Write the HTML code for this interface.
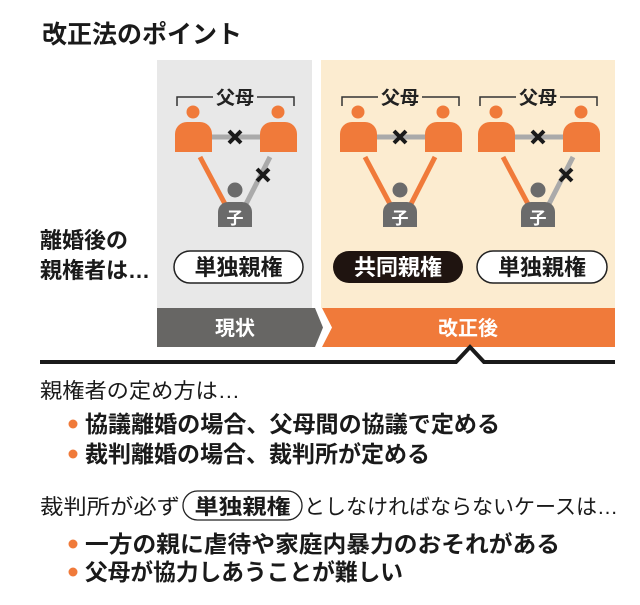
<!DOCTYPE html>
<html><head><meta charset="utf-8"><style>
html,body{margin:0;padding:0;background:#fff;}
svg{display:block;}
text{font-family:"Liberation Sans","Noto Sans CJK JP",sans-serif;}
</style></head><body>
<svg width="640" height="605" viewBox="0 0 640 605" xmlns="http://www.w3.org/2000/svg">
<defs>
<g id="fig">
  <path d="M2 106 V97 H38 M82 97 H119 V106" fill="none" stroke="#333" stroke-width="1.5"/>
  <text x="60" y="104" font-size="19" font-weight="bold" text-anchor="middle" fill="#222">父母</text>
  <line x1="36" y1="137" x2="86" y2="137" stroke="#aaa" stroke-width="5"/>
  <circle cx="18" cy="112" r="6.5" fill="#f07a3a"/>
  <path d="M0 152 V134 A12 12 0 0 1 12 122 H25 A12 12 0 0 1 37 134 V152 Z" fill="#f07a3a"/>
  <circle cx="103" cy="112" r="6.5" fill="#f07a3a"/>
  <path d="M85 152 V134 A12 12 0 0 1 97 122 H110 A12 12 0 0 1 122 134 V152 Z" fill="#f07a3a"/>
  <path d="M54 131 L66 143 M66 131 L54 143" stroke="#1a1a1a" stroke-width="4"/>
  <circle cx="60" cy="190" r="7.5" fill="#6b6b6b"/>
  <path d="M43 227 V212 A10 10 0 0 1 53 202 H67 A10 10 0 0 1 77 212 V227 Z" fill="#6b6b6b"/>
  <text x="60" y="224" font-size="17" font-weight="bold" text-anchor="middle" fill="#fff">子</text>
</g>
</defs>

<text x="42" y="43" font-size="25" font-weight="bold" fill="#1a1a1a">改正法のポイント</text>

<rect x="157" y="60" width="155" height="248" fill="#e8e8e8"/>
<rect x="321" y="60" width="294" height="248" fill="#fcecd0"/>

<g transform="translate(175,0)">
  <line x1="25" y1="157" x2="50" y2="204" stroke="#f07a3a" stroke-width="5"/>
  <line x1="95" y1="157" x2="71" y2="204" stroke="#aaa" stroke-width="5"/>
  <use href="#fig"/>
  <path d="M82 169 L94 181 M94 169 L82 181" stroke="#1a1a1a" stroke-width="4"/>
</g>
<g transform="translate(340,0)">
  <line x1="25" y1="157" x2="50" y2="204" stroke="#f07a3a" stroke-width="5"/>
  <line x1="95" y1="157" x2="71" y2="204" stroke="#f07a3a" stroke-width="5"/>
  <use href="#fig"/>
</g>
<g transform="translate(478,0)">
  <line x1="25" y1="157" x2="50" y2="204" stroke="#f07a3a" stroke-width="5"/>
  <line x1="95" y1="157" x2="71" y2="204" stroke="#aaa" stroke-width="5"/>
  <use href="#fig"/>
  <path d="M82 169 L94 181 M94 169 L82 181" stroke="#1a1a1a" stroke-width="4"/>
</g>

<text x="40" y="248" font-size="22" font-weight="bold" fill="#1a1a1a">離婚後の</text>
<text x="40" y="278" font-size="22" font-weight="bold" fill="#1a1a1a">親権者は…</text>

<rect x="174" y="251" width="129" height="32" rx="16" fill="#fff" stroke="#222" stroke-width="1.5"/>
<text x="238.5" y="275" font-size="22" font-weight="bold" text-anchor="middle" fill="#1a1a1a">単独親権</text>
<rect x="333" y="251" width="130" height="32" rx="16" fill="#1f1410"/>
<text x="398" y="275" font-size="22" font-weight="bold" text-anchor="middle" fill="#fff">共同親権</text>
<rect x="477" y="251" width="130" height="32" rx="16" fill="#fff" stroke="#222" stroke-width="1.5"/>
<text x="542" y="275" font-size="22" font-weight="bold" text-anchor="middle" fill="#1a1a1a">単独親権</text>

<polygon points="157,308 315,308 323,327.5 315,347 157,347" fill="#676664"/>
<polygon points="322,308 615,308 615,347 322,347 332,327.5" fill="#f07a3a"/>
<text x="235" y="335" font-size="20" font-weight="bold" text-anchor="middle" fill="#fff">現状</text>
<text x="468" y="335" font-size="20" font-weight="bold" text-anchor="middle" fill="#fff">改正後</text>

<path d="M40 362 H456 L470 347 L484 362 H615" fill="none" stroke="#1a1a1a" stroke-width="4"/>

<text x="40" y="398" font-size="21" fill="#1a1a1a" textLength="200" lengthAdjust="spacingAndGlyphs">親権者の定め方は…</text>
<circle cx="73" cy="424" r="4.5" fill="#f07a3a"/>
<text x="85" y="432" font-size="23" font-weight="bold" fill="#1a1a1a" textLength="415" lengthAdjust="spacingAndGlyphs">協議離婚の場合、父母間の協議で定める</text>
<circle cx="73" cy="454" r="4.5" fill="#f07a3a"/>
<text x="85" y="462" font-size="23" font-weight="bold" fill="#1a1a1a" textLength="345" lengthAdjust="spacingAndGlyphs">裁判離婚の場合、裁判所が定める</text>

<text x="40" y="514" font-size="21" fill="#1a1a1a" textLength="140" lengthAdjust="spacingAndGlyphs">裁判所が必ず</text>
<rect x="183" y="491" width="119" height="29" rx="14.5" fill="#fff" stroke="#222" stroke-width="1.3"/>
<text x="242.5" y="514" font-size="21" font-weight="bold" text-anchor="middle" fill="#1a1a1a" textLength="96" lengthAdjust="spacingAndGlyphs">単独親権</text>
<text x="304" y="514" font-size="21" fill="#1a1a1a" textLength="314" lengthAdjust="spacingAndGlyphs">としなければならないケースは…</text>
<circle cx="73" cy="544" r="4.5" fill="#f07a3a"/>
<text x="85" y="552" font-size="23" font-weight="bold" fill="#1a1a1a" textLength="475" lengthAdjust="spacingAndGlyphs">一方の親に虐待や家庭内暴力のおそれがある</text>
<circle cx="73" cy="572" r="4.5" fill="#f07a3a"/>
<text x="85" y="580" font-size="23" font-weight="bold" fill="#1a1a1a" textLength="318" lengthAdjust="spacingAndGlyphs">父母が協力しあうことが難しい</text>
</svg>
</body></html>
